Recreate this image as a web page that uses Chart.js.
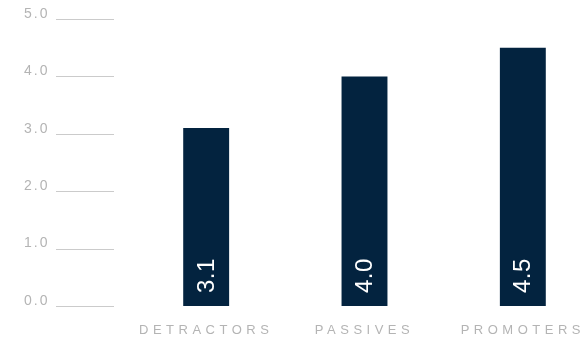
<!DOCTYPE html>
<html>
<head>
<meta charset="utf-8">
<script src="https://cdn.jsdelivr.net/npm/chart.js@4/dist/chart.umd.min.js"></script>
<style>
  html, body { margin: 0; padding: 0; background: #ffffff; overflow: hidden; }
  #wrap { width: 581px; height: 341px; overflow: hidden; position: relative; }
  #box { width: 602px; height: 341px; position: relative; }
</style>
</head>
<body>
<div id="wrap"><div id="box"><canvas id="chart"></canvas></div></div>
<script>
// NPS groups and their average scores
const categories = ['DETRACTORS', 'PASSIVES', 'PROMOTERS'];
const scores = [3.1, 4.0, 4.5];
const yTicks = [0, 1, 2, 3, 4, 5];

const NAVY = '#03233f';
const GREY_TEXT = '#b4b4b4';
const GREY_LINE = '#cbcbcb';
const FONT = "'Liberation Sans', Arial, sans-serif";

// Short guide lines next to the value ticks, placed on the y scale's pixels
const guideLines = {
  id: 'guideLines',
  beforeDatasetsDraw(chart) {
    const y = chart.scales.y;
    const ctx = chart.ctx;
    ctx.save();
    ctx.strokeStyle = GREY_LINE;
    ctx.lineWidth = 1;
    y.ticks.forEach(t => {
      const py = Math.round(y.getPixelForValue(t.value)) + 0.5;
      ctx.beginPath();
      ctx.moveTo(y.right - 71, py);
      ctx.lineTo(y.right - 13, py);
      ctx.stroke();
    });
    ctx.restore();
  }
};

// Spaced-out lettering for the axis labels
const spacedAxes = {
  id: 'spacedAxes',
  afterLayout(chart) {
    [['x', '4.5px'], ['y', '2px']].forEach(([id, sp]) => {
      const s = chart.scales[id];
      if (s && !s._spaced) {
        const drawLabels = s.drawLabels.bind(s);
        s.drawLabels = function (area) {
          const ctx = chart.ctx;
          ctx.save();
          ctx.letterSpacing = sp;
          drawLabels(area);
          ctx.restore();
        };
        s._spaced = true;
      }
    });
  }
};

// Value written upright inside the foot of each bar
const barValues = {
  id: 'barValues',
  afterDatasetsDraw(chart) {
    const ctx = chart.ctx;
    const meta = chart.getDatasetMeta(0);
    const data = chart.data.datasets[0].data;
    ctx.save();
    ctx.fillStyle = '#ffffff';
    ctx.font = '24px ' + FONT;
    ctx.letterSpacing = '0.5px';
    ctx.textAlign = 'left';
    ctx.textBaseline = 'middle';
    meta.data.forEach((bar, i) => {
      ctx.save();
      ctx.translate(bar.x + 1, bar.base - 13);
      ctx.rotate(-Math.PI / 2);
      ctx.fillText(data[i].toFixed(1), 0, 0);
      ctx.restore();
    });
    ctx.restore();
  }
};

new Chart(document.getElementById('chart'), {
  type: 'bar',
  data: {
    labels: categories,
    datasets: [{
      data: scores,
      backgroundColor: NAVY,
      borderWidth: 0,
      barPercentage: 0.29,
      categoryPercentage: 1.0
    }]
  },
  options: {
    responsive: true,
    maintainAspectRatio: false,
    animation: false,
    events: [],
    layout: { padding: { top: 19, right: 0, bottom: 0, left: 24 } },
    plugins: {
      legend: { display: false },
      tooltip: { enabled: false }
    },
    scales: {
      x: {
        offset: true,
        grid: { display: false, drawTicks: false },
        border: { display: false },
        ticks: {
          color: GREY_TEXT,
          font: { family: FONT, size: 13 },
          padding: 17,
          maxRotation: 0,
          autoSkip: false
        },
        afterFit(scale) { scale.height = 35; }
      },
      y: {
        min: 0,
        max: 5,
        afterBuildTicks(scale) { scale.ticks = yTicks.map(v => ({ value: v })); },
        grid: { display: false, drawTicks: false },
        border: { display: false },
        ticks: {
          color: GREY_TEXT,
          font: { family: FONT, size: 14 },
          padding: 4,
          crossAlign: 'far',
          labelOffset: -5,
          callback: v => Number(v).toFixed(1)
        },
        afterFit(scale) { scale.width = 103; }
      }
    }
  },
  plugins: [guideLines, spacedAxes, barValues]
});
</script>
</body>
</html>
